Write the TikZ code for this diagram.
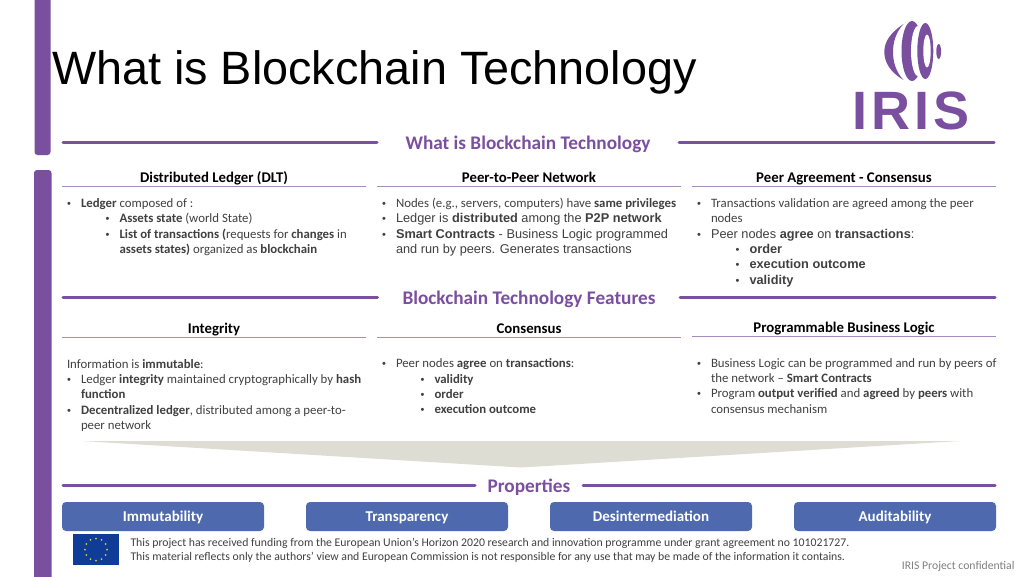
\documentclass[tikz,border=0pt]{standalone}
\usepackage{fontspec}
\setmainfont{Carlito}
\newfontfamily\arialf{Liberation Sans}
\usetikzlibrary{shapes.geometric}
\definecolor{irispurple}{HTML}{7B4FA0}
\definecolor{subline}{HTML}{A78CC0}
\definecolor{bodytxt}{HTML}{404040}
\definecolor{btnblue}{HTML}{4F69AE}
\definecolor{wedge}{HTML}{DDDDD3}
\definecolor{euflag}{HTML}{0F3C96}
\definecolor{eustar}{HTML}{D8C850}
\tikzset{
  every node/.style={inner sep=0pt,outer sep=0pt},
  sidebar/.style={fill=irispurple,rounded corners=3pt},
  rule/.style={draw=irispurple,line width=3pt,line cap=round},
  subrule/.style={draw=subline,line width=1pt},
  sect/.style={font=\fontsize{19.25}{20}\selectfont\bfseries,text=irispurple,anchor=base,yshift=-0.6pt},
  head/.style={font=\fontsize{14.8}{16}\selectfont\bfseries,text=black,anchor=base,yshift=-0.7pt},
  body/.style={font=\fontsize{12.8}{15}\selectfont,text=bodytxt,anchor=base west,yshift=-0.6pt},
  arl/.style={font=\arialf\fontsize{12.75}{15}\selectfont,text=bodytxt,anchor=base west,yshift=-0.6pt},
  bul/.style={font=\arialf\fontsize{11}{15}\selectfont,text=bodytxt,anchor=base,yshift=-0.6pt},
  btn/.style={fill=btnblue,rounded corners=4pt,minimum width=202pt,minimum height=29pt,
    text height=10pt,text depth=0pt,text=white,font=\fontsize{15}{15}\selectfont\bfseries},
  foot/.style={font=\fontsize{11.76}{14}\selectfont,text=bodytxt,anchor=base west},
}
\begin{document}
\begin{tikzpicture}[x=1pt,y=-1pt]
\useasboundingbox (0,0) rectangle (1024,576);
\fill[white] (0,0) rectangle (1024,576);
% side bars
\fill[sidebar] (34.5,-6) rectangle (50.5,155);
\fill[sidebar] (34,170) rectangle (51.5,582);
% title
\node[font=\arialf\fontsize{46.77}{48}\selectfont,text=black,anchor=base west] (title) at (52,84.5) {What is Blockchain Technology};
% logo
\fill[irispurple] (903.5,24) .. controls (890,33) and (884.3,42) .. (884.3,52) .. controls (884.3,62) and (890,72) .. (903.5,80)
   .. controls (896,72) and (893,62) .. (893,52) .. controls (893,42) and (896,32) .. (903.5,24) -- cycle;
\fill[irispurple] (912,51) ellipse (10.5pt and 30pt);
\fill[white] (918,51) ellipse (7pt and 25pt);
\fill[irispurple] (925.3,51) ellipse (8pt and 28pt);
\fill[white] (927,51) ellipse (3.7pt and 16.5pt);
\fill[irispurple] (938.7,51.5) ellipse (2.4pt and 7.5pt);
\node[font=\arialf\fontsize{54}{54}\selectfont\bfseries,text=irispurple,anchor=base] (logotext) at (911,129) {\addfontfeature{LetterSpace=8}IRIS};
% rules
\coordinate (r1a) at (63,142.5); \coordinate (r1b) at (377,142.5);
\coordinate (r1c) at (679,142.5); \coordinate (r1d) at (994,142.5);
\draw[rule] (r1a) -- (r1b); \draw[rule] (r1c) -- (r1d);
\coordinate (r2a) at (63,297.5); \coordinate (r2b) at (377.5,297.5);
\coordinate (r2c) at (680,297.5); \coordinate (r2d) at (995,297.5);
\draw[rule] (r2a) -- (r2b); \draw[rule] (r2c) -- (r2d);
\coordinate (r3a) at (63,485); \coordinate (r3b) at (475,485);
\coordinate (r3c) at (583,485); \coordinate (r3d) at (995,485);
\draw[rule] (r3a) -- (r3b); \draw[rule] (r3c) -- (r3d);
\node[sect] (s1) at (528,149) {What is Blockchain Technology};
\node[sect] (s2) at (529,304) {Blockchain Technology Features};
\node[sect] (s3) at (529,491.5) {Properties};
% sub rules
\draw[subrule] (62,186) -- (366,186);
\draw[subrule] (377,186) -- (681,186);
\draw[subrule] (692,186) -- (996,186);
\draw[subrule] (62,337.5) -- (366,337.5);
\draw[subrule] (377,337.5) -- (681,337.5);
\draw[subrule] (692,336.5) -- (996,336.5);
% heads
\node[head] (h1) at (214,181.5) {Distributed Ledger (DLT)};
\node[head] (h2) at (529,181.5) {Peer-to-Peer Network};
\node[head] (h3) at (844,181.5) {Peer Agreement - Consensus};
\node[head] (h4) at (214,332.5) {Integrity};
\node[head] (h5) at (529,332.5) {Consensus};
\node[head] (h6) at (844,331.5) {Programmable Business Logic};
% column 1
\node[bul] (a0) at (69,207) {•};
\node[body] (a1) at (81,207) {\textbf{Ledger} composed of :};
\node[bul] (a2b) at (107.5,222.3) {•};
\node[body] (a2) at (119.5,222.3) {\textbf{Assets state} (world State)};
\node[bul] (a3b) at (107.5,237.6) {•};
\node[body] (a3) at (119.5,237.6) {\textbf{List of transactions (}requests for \textbf{changes} in};
\node[body] (a4) at (119.5,252.9) {\textbf{assets states)} organized as \textbf{blockchain}};
% column 2
\node[bul] (b1b) at (384,207) {•};
\node[body] (b1) at (396,207) {Nodes (e.g., servers, computers) have \textbf{same privileges}};
\node[bul] (b2b) at (384,222.3) {•};
\node[arl] (b2) at (396,222.3) {Ledger is \textbf{distributed} among the \textbf{P2P network}};
\node[bul] (b3b) at (384,237.6) {•};
\node[arl] (b3) at (396,237.6) {\textbf{Smart Contracts} - Business Logic programmed};
\node[arl] (b4) at (396,252.9) {and run by peers. Generates transactions};
% column 3
\node[bul] (c1b) at (699,207) {•};
\node[body] (c1) at (711,207) {Transactions validation are agreed among the peer};
\node[body] (c2) at (711,222.3) {nodes};
\node[bul] (c3b) at (699,237.6) {•};
\node[arl] (c3) at (711,237.6) {Peer nodes \textbf{agree} on \textbf{transactions}:};
\node[bul] (c4b) at (737.5,252.9) {•};
\node[arl] (c4) at (749.5,252.9) {\textbf{order}};
\node[bul] (c5b) at (737.5,268.2) {•};
\node[arl] (c5) at (749.5,268.2) {\textbf{execution outcome}};
\node[bul] (c6b) at (737.5,283.5) {•};
\node[arl] (c6) at (749.5,283.5) {\textbf{validity}};
% integrity
\node[body] (d0) at (67,367.5) {Information is \textbf{immutable}:};
\node[bul] (d1b) at (69,382.8) {•};
\node[body] (d1) at (81,382.8) {Ledger \textbf{integrity} maintained cryptographically by \textbf{hash}};
\node[body] (d2) at (81,398.1) {\textbf{function}};
\node[bul] (d3b) at (69,413.4) {•};
\node[body] (d3) at (81,413.4) {\textbf{Decentralized ledger}, distributed among a peer-to-};
\node[body] (d4) at (81,428.7) {peer network};
% consensus
\node[bul] (e1b) at (384,367.2) {•};
\node[body] (e1) at (396,367.2) {Peer nodes \textbf{agree} on \textbf{transactions}:};
\node[bul] (e2b) at (422.5,382.5) {•};
\node[body] (e2) at (434.5,382.5) {\textbf{validity}};
\node[bul] (e3b) at (422.5,397.8) {•};
\node[body] (e3) at (434.5,397.8) {\textbf{order}};
\node[bul] (e4b) at (422.5,413.1) {•};
\node[body] (e4) at (434.5,413.1) {\textbf{execution outcome}};
% business logic
\node[bul] (f1b) at (699,366.5) {•};
\node[body] (f1) at (711,366.5) {Business Logic can be programmed and run by peers of};
\node[body] (f2) at (711,381.8) {the network – \textbf{Smart Contracts}};
\node[bul] (f3b) at (699,397.1) {•};
\node[body] (f3) at (711,397.1) {Program \textbf{output verified} and \textbf{agreed} by \textbf{peers} with};
\node[body] (f4) at (711,412.4) {consensus mechanism};
% wedge
\fill[wedge] (82,441) -- (960,441) -- (521,467.5) -- cycle;
% buttons
\node[btn] (p1) at (163,516.5) {Immutability};
\node[btn] (p2) at (407,516.5) {Transparency};
\node[btn] (p3) at (651,516.5) {Desintermediation};
\node[btn] (p4) at (895,516.5) {Auditability};
% flag
\fill[euflag] (73,534) rectangle (119,565);
\foreach \a in {0,30,...,330}
  \fill[eustar] ({96+11*cos(\a)},{549.5+11*sin(\a)}) circle (1pt);
% footer
\node[foot] (g1) at (130.5,546) {This project has received funding from the European Union’s Horizon 2020 research and innovation programme under grant agreement no 101021727.};
\node[foot] (g2) at (130.5,560) {This material reflects only the authors’ view and European Commission is not responsible for any use that may be made of the information it contains.};
\node[font=\fontsize{11.7}{14}\selectfont,text=black!50,anchor=base east] (g3) at (1014.5,569) {IRIS Project confidential};
\end{tikzpicture}
\end{document}
